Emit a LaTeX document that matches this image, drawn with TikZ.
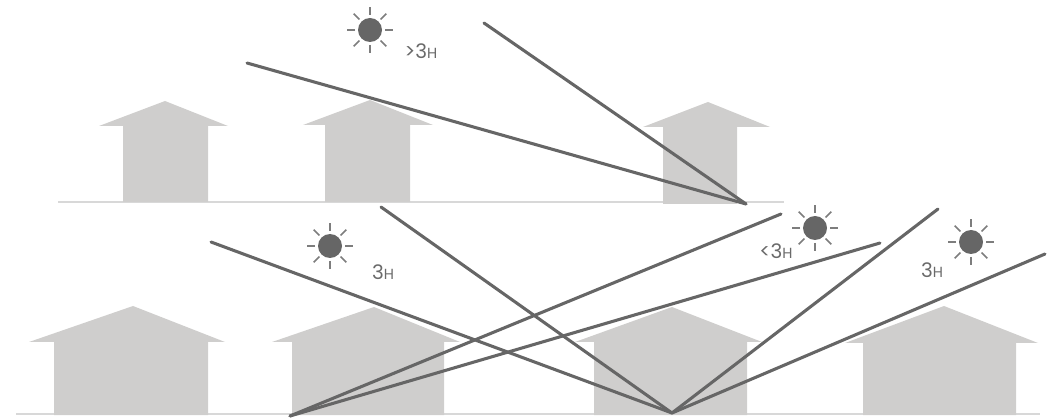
\documentclass[tikz,border=0pt]{standalone}
\usepackage{fontspec}
\setmainfont{Poppins}
\usetikzlibrary{calc}
\definecolor{housefill}{HTML}{CFCECD}
\definecolor{groundgray}{HTML}{D8D8D8}
\definecolor{beamgray}{HTML}{666666}
\definecolor{textgray}{HTML}{6A6A6A}

% house outline: eave-left, body-left, body-right, eave-right, eave-y, apex-x, apex-y, base-y
\newcommand{\houseshape}[8]{%
  \fill[housefill] (#2,#8) -- (#2,#5) -- (#1,#5) -- (#6,#7) -- (#4,#5) -- (#3,#5) -- (#3,#8) -- cycle;}

% sun icon: name, centre
\newcommand{\sunicon}[2]{%
  \node[sundisk] (#1) at (#2) {};
  \foreach \a in {0,45,...,315}
    \draw[sunray] ($(#1.center)+(\a:15)$) -- ($(#1.center)+(\a:23)$);}

% small "H" after the figure
\newcommand{\hsmall}{{\fontsize{11}{12}\selectfont H}}

\begin{document}
\begin{tikzpicture}[x=0.75pt, y=-0.75pt,
  ground/.style={draw=groundgray, line width=1.6pt},
  beam/.style={draw=beamgray, line width=2.3pt, line cap=round},
  sundisk/.style={circle, fill=beamgray, minimum size=18pt, inner sep=0pt},
  sunray/.style={draw=beamgray!85, line width=1.1pt},
  hours/.style={text=textgray, font=\fontsize{15}{17}\selectfont, inner sep=0pt}]
\useasboundingbox (0,0) rectangle (1050,420);

% ground lines
\coordinate (g1a) at (58,202);  \coordinate (g1b) at (784,202);
\coordinate (g2a) at (16,414);  \coordinate (g2b) at (1040,414);
\draw[ground] (g1a) -- (g1b);
\draw[ground] (g2a) -- (g2b);

% upper row of houses
\houseshape{99}{123}{208}{228}{126}{165}{101}{202}
\houseshape{303}{325}{410}{433}{125}{370}{100}{202}
\houseshape{643}{663}{737}{770}{127}{708}{102}{204}

% lower row of houses
\houseshape{29}{54}{208}{225}{342}{133}{306}{415}
\houseshape{272}{292}{444}{460}{342}{374}{307}{415}
\houseshape{575}{594}{747}{762}{342}{672}{307}{415}
\houseshape{845}{863}{1016}{1038}{343}{944}{306}{415}

% sun beams, upper row
\coordinate (uf) at (746,204);
\coordinate (u1) at (247,63);
\coordinate (u2) at (484,23);
\draw[beam] (u1) -- (uf);
\draw[beam] (u2) -- (uf);

% sun beams, lower row
\coordinate (lf) at (290,416);
\coordinate (rf) at (672,413);
\coordinate (l1) at (211,242);
\coordinate (l2) at (381,207);
\coordinate (l3) at (938,209);
\coordinate (l4) at (1045,254);
\coordinate (l5) at (781,214);
\coordinate (l6) at (880,243);
\draw[beam] (l1) -- (rf);
\draw[beam] (l2) -- (rf);
\draw[beam] (l3) -- (rf);
\draw[beam] (l4) -- (rf);
\draw[beam] (l5) -- (lf);
\draw[beam] (l6) -- (lf);

% suns and daylight hours
\sunicon{s1}{370,30}
\sunicon{s2}{330,246}
\sunicon{s3}{815,228}
\sunicon{s4}{971,242}
\node[hours] (h1) at (421,51) {>3\hsmall};
\node[hours] (h2) at (383,272) {3\hsmall};
\node[hours] (h3) at (776,251) {<3\hsmall};
\node[hours] (h4) at (932,270) {3\hsmall};
\end{tikzpicture}
\end{document}
